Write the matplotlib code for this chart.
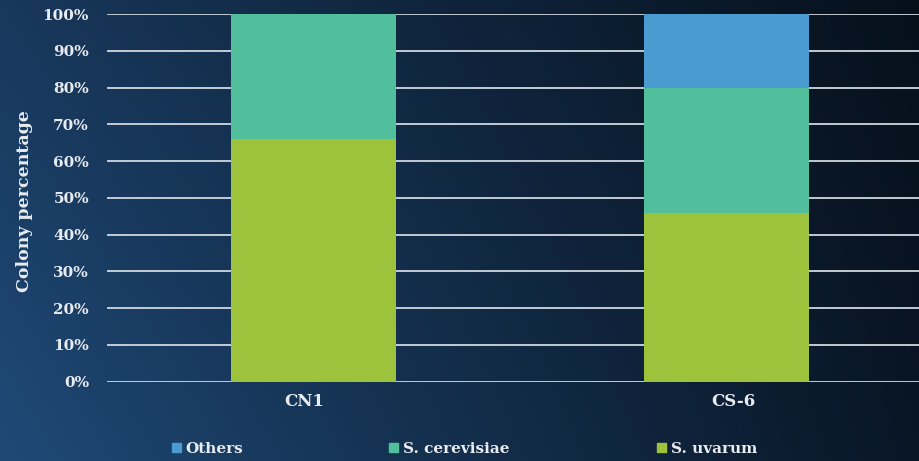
import numpy as np
import matplotlib.pyplot as plt
from matplotlib.patches import Patch
from matplotlib.transforms import ScaledTranslation

samples = ['CN1', 'CS-6']
s_uvarum = [66, 46]
s_cerevisiae = [34, 34]
others = [0, 20]
series_names = ['Others', 'S. cerevisiae', 'S. uvarum']
yticks = np.arange(0, 101, 10)

c_uvarum = '#9dc33d'
c_cerev = '#51bf9c'
c_others = '#4a9bcf'
txt_col = '#e8ebef'

plt.rcParams['font.family'] = ['DejaVu Serif']

fig = plt.figure(figsize=(9.2, 4.61), dpi=100)

# dark blue backdrop: blue on the left, near black on the right
bg = fig.add_axes([0, 0, 1, 1], zorder=-10)
h, w = 240, 480
yy, xx = np.mgrid[0:1:h * 1j, 0:1:w * 1j]
tl = np.array([0x18, 0x38, 0x5c]) / 255
bl = np.array([0x1f, 0x4a, 0x77]) / 255
tr = np.array([0x06, 0x10, 0x1b]) / 255
br = np.array([0x09, 0x16, 0x26]) / 255
u = (xx ** 0.95)[..., None]
v = yy[..., None]
img = (tl * (1 - u) * (1 - v) + tr * u * (1 - v)
       + bl * (1 - u) * v + br * u * v)
bg.imshow(img, aspect='auto', extent=[0, 1, 0, 1], origin='upper')
bg.axis('off')

ax = fig.add_axes([107 / 920, 79.3 / 461, 826 / 920, 367.7 / 461])
ax.set_facecolor('none')

x = np.arange(len(samples))
width = 0.4
ax.bar(x, s_uvarum, width, color=c_uvarum, zorder=3)
ax.bar(x, s_cerevisiae, width, bottom=s_uvarum, color=c_cerev, zorder=3)
base = np.array(s_uvarum) + np.array(s_cerevisiae)
ax.bar(x, others, width, bottom=base, color=c_others, zorder=3)

ax.set_xlim(-0.5, 1.5)
ax.set_ylim(0, 100)
ax.set_yticks(yticks)
ax.set_yticklabels([f'{v}%' for v in yticks], fontweight='bold')
ax.grid(axis='y', color='#cfd8e0', linewidth=1.3, zorder=1)
ax.set_axisbelow(True)
for s in ax.spines.values():
    s.set_visible(False)

ax.tick_params(axis='y', length=0, pad=13, labelsize=11, colors=txt_col)
ax.tick_params(axis='x', length=0, pad=8, labelsize=12, colors=txt_col)
ax.set_xticks(x)
ax.set_xticklabels(samples, fontweight='bold')
# nudge the category labels slightly sideways
for lab, dx in zip(ax.get_xticklabels(), [-9, 7]):
    lab.set_transform(lab.get_transform() + ScaledTranslation(dx / 100, 0, fig.dpi_scale_trans))

fig.text(25 / 920, 1 - 201 / 461, 'Colony percentage', rotation=90,
         ha='center', va='center', fontsize=12.5, fontweight='bold',
         color=txt_col)

# legend entries spread along the bottom
leg_pos = [172, 389, 657]
leg_cols = [c_others, c_cerev, c_uvarum]
for name, col, px in zip(series_names, leg_cols, leg_pos):
    lg = fig.legend(handles=[Patch(color=col)], labels=[name],
                    loc='center left', bbox_to_anchor=(px / 920, 1 - 449 / 461),
                    frameon=False, prop={'size': 11, 'weight': 'bold'},
                    handlelength=0.6, handleheight=0.6, handletextpad=0.3,
                    borderpad=0, borderaxespad=0)
    for txt in lg.get_texts():
        txt.set_color(txt_col)

fig.savefig('out.png', dpi=100)
